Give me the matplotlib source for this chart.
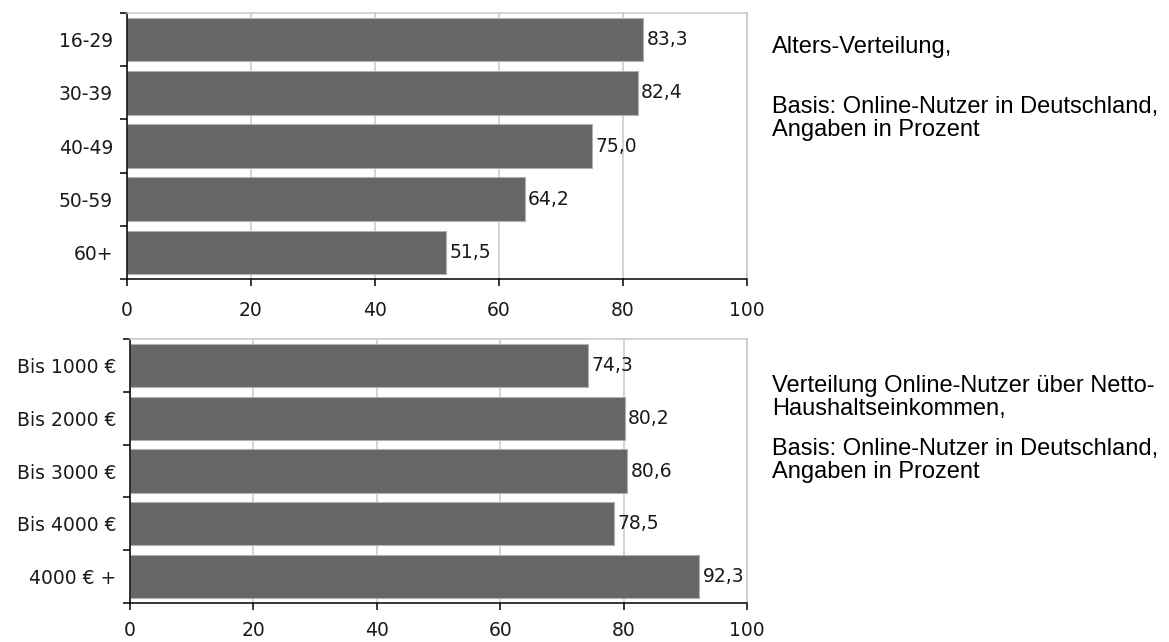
import matplotlib
matplotlib.use("Agg")
import matplotlib.pyplot as plt
import numpy as np

# Age distribution of German online users (percent)
age_groups = ["16-29", "30-39", "40-49", "50-59", "60+"]
age_values = [83.3, 82.4, 75.0, 64.2, 51.5]

# Distribution by net household income (percent)
income_groups = ["Bis 1000 €", "Bis 2000 €", "Bis 3000 €", "Bis 4000 €", "4000 € +"]
income_values = [74.3, 80.2, 80.6, 78.5, 92.3]

x_ticks = [0, 20, 40, 60, 80, 100]

BAR = "#666666"
GRID = "#c8c8c8"
TICK_FONT = 13.5

fig = plt.figure(figsize=(11.69, 6.42), dpi=100)
W, H = 1169, 642


def px_axes(left, top, right, bottom):
    return fig.add_axes([left / W, 1 - bottom / H, (right - left) / W, (bottom - top) / H])


def draw_panel(ax, labels, values, xpad):
    n = len(labels)
    y = np.arange(n)
    ax.set_axisbelow(True)
    ax.barh(y, values, height=0.82, color=BAR, edgecolor="#b0b0b0", linewidth=0.8)
    ax.set_xlim(0, 100)
    ax.set_ylim(n - 0.5, -0.5)
    ax.set_xticks(x_ticks)
    ax.set_xticklabels([str(t) for t in x_ticks], fontsize=TICK_FONT, color="#1a1a1a")
    ax.xaxis.grid(True, color=GRID, linewidth=1.1)
    ax.set_yticks(y)
    ax.set_yticklabels(labels, fontsize=TICK_FONT, color="#1a1a1a")
    ax.set_yticks(np.arange(n + 1) - 0.5, minor=True)
    ax.tick_params(axis="y", which="major", length=0, pad=10)
    ax.tick_params(axis="y", which="minor", length=5, width=1.1, direction="out", color="black")
    ax.tick_params(axis="x", which="major", length=5, width=1.1, direction="out",
                   color="black", pad=xpad)
    for side in ("top", "right"):
        ax.spines[side].set_color(GRID)
        ax.spines[side].set_linewidth(1.1)
    for side in ("left", "bottom"):
        ax.spines[side].set_color("black")
        ax.spines[side].set_linewidth(1.1)
    for yi, v in zip(y, values):
        ax.text(v + 0.5, yi, f"{v:.1f}".replace(".", ","), va="center", ha="left",
                fontsize=TICK_FONT, color="#1a1a1a")


ax_top = px_axes(127, 13, 747, 279)
draw_panel(ax_top, age_groups, age_values, xpad=11)

ax_bot = px_axes(130, 339, 747, 603)
draw_panel(ax_bot, income_groups, income_values, xpad=8)

TEXT_FONT = dict(family="Liberation Sans", fontsize=17, color="black", va="center", ha="left")


def side_text(x, y, s):
    fig.text(x / W, 1 - y / H, s, **TEXT_FONT)


side_text(772, 47, "Alters-Verteilung,")
side_text(772, 107, "Basis: Online-Nutzer in Deutschland,")
side_text(772, 130, "Angaben in Prozent")

side_text(772, 386, "Verteilung Online-Nutzer über Netto-")
side_text(772, 409, "Haushaltseinkommen,")
side_text(772, 449, "Basis: Online-Nutzer in Deutschland,")
side_text(772, 472, "Angaben in Prozent")

fig.savefig("out.png", dpi=100, facecolor="white")
